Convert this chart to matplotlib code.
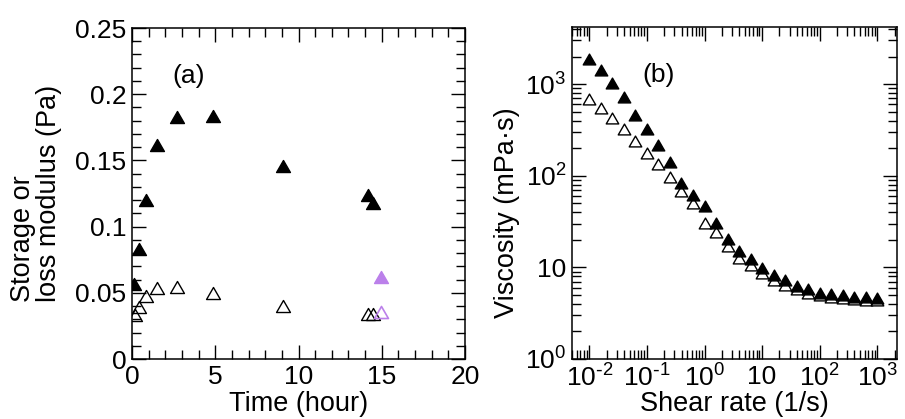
import numpy as np
import matplotlib
matplotlib.use("Agg")
import matplotlib.pyplot as plt
from matplotlib.path import Path
from matplotlib.ticker import MultipleLocator, LogLocator, FixedLocator, FixedFormatter, NullFormatter

plt.rcParams["font.family"] = ["Liberation Sans", "DejaVu Sans"]
plt.rcParams["mathtext.default"] = "regular"

# ================= DATA (a) =================
time_storage = [0.1, 0.42, 0.84, 1.52, 2.72, 4.88, 9.05, 14.2, 14.5]
storage = [0.0566, 0.083, 0.120, 0.162, 0.1825, 0.1835, 0.1458, 0.124, 0.1176]
time_loss = [0.18, 0.44, 0.84, 1.52, 2.72, 4.88, 9.05, 14.2, 14.5]
loss = [0.0332, 0.0395, 0.0478, 0.0534, 0.0546, 0.0501, 0.040, 0.0338, 0.0338]
time_extra = [14.96]
storage_extra = [0.0622]
loss_extra = [0.0357]

# ================= DATA (b) =================
shear_rate = [10 ** (-2 + i / 5) for i in range(26)]
visc_filled = [1900, 1416, 1030, 715, 458, 320, 216, 142, 84, 61.6, 46.8, 30.8, 20.3,
               15.1, 12.3, 9.8, 8.3, 7.3, 6.3, 5.8, 5.3, 5.1, 5.0, 4.8, 4.8, 4.6]
visc_open = [680, 551, 422, 320, 239, 175, 133, 97.5, 68, 50.8, 30.8, 24.5, 17.1,
             12.6, 10.6, 8.65, 7.3, 6.45, 5.8, 5.3, 5.0, 4.8, 4.6, 4.5, 4.43, 4.35]

x_ticks_b = [1e-2, 1e-1, 1, 10, 100, 1000]
x_labels_b = [r"$10^{\text{-}2}$", r"$10^{\text{-}1}$", "$10^{0}$", "10", "$10^{2}$", "$10^{3}$"]
y_ticks_b = [1, 10, 100, 1000]
y_labels_b = ["$10^{0}$", "10", "$10^{2}$", "$10^{3}$"]

PURPLE = "#bb80ea"

# equilateral triangle marker
tri = Path([(-1, -0.866), (1, -0.866), (0, 0.866), (-1, -0.866)],
           [Path.MOVETO, Path.LINETO, Path.LINETO, Path.CLOSEPOLY])

fig = plt.figure(figsize=(9.05, 4.19), dpi=100)
ax1 = fig.add_axes([132 / 905, 60 / 419, 333 / 905, 331 / 419])
ax2 = fig.add_axes([572 / 905, 60 / 419, 325 / 905, 332 / 419])

FS = 19

def style(ax):
    for s in ax.spines.values():
        s.set_linewidth(1.1)
    ax.tick_params(which="both", direction="in", top=True, right=True,
                   labelsize=FS, width=1.0)
    ax.tick_params(which="major", length=10, pad=4)
    ax.tick_params(which="minor", length=6.5)

# ================= PANEL (a) =================
ms_a = 10
ax1.plot(time_storage, storage, linestyle="none", marker=tri, ms=ms_a,
         color="black", mec="black")
ax1.plot(time_loss, loss, linestyle="none", marker=tri, ms=ms_a,
         mfc="none", mec="black", mew=1.0)
ax1.plot(time_extra, storage_extra, linestyle="none", marker=tri, ms=ms_a,
         color=PURPLE, mec=PURPLE)
ax1.plot(time_extra, loss_extra, linestyle="none", marker=tri, ms=ms_a,
         mfc="none", mec=PURPLE, mew=1.2)

ax1.set_xlim(0, 20)
ax1.set_ylim(0, 0.25)
ax1.xaxis.set_major_locator(MultipleLocator(5))
ax1.xaxis.set_minor_locator(MultipleLocator(1))
ax1.set_yticks([0, 0.05, 0.1, 0.15, 0.2, 0.25])
ax1.set_yticklabels(["0", "0.05", "0.1", "0.15", "0.2", "0.25"])
ax1.yaxis.set_minor_locator(MultipleLocator(0.01))
style(ax1)
ax1.set_xlabel("Time (hour)", fontsize=FS + 0.5, labelpad=1.5)
ax1.set_ylabel("Storage or\nloss modulus (Pa)", fontsize=FS + 0.5,
               multialignment="left", linespacing=1.0)
ax1.yaxis.set_label_coords(-0.21, 0.5)
ax1.text(0.12, 0.855, "(a)", transform=ax1.transAxes, fontsize=FS,
         va="center", ha="left")

# ================= PANEL (b) =================
ms_b = 9
ax2.plot(shear_rate, visc_open, linestyle="none", marker=tri, ms=ms_b,
         mfc="white", mec="black", mew=1.0)
ax2.plot(shear_rate, visc_filled, linestyle="none", marker=tri, ms=ms_b,
         color="black", mec="black")
ax2.set_xscale("log")
ax2.set_yscale("log")
ax2.set_xlim(0.005, 2200)
ax2.set_ylim(1, 4200)
ax2.xaxis.set_major_locator(FixedLocator(x_ticks_b))
ax2.xaxis.set_major_formatter(FixedFormatter(x_labels_b))
ax2.xaxis.set_minor_locator(LogLocator(base=10, subs=np.arange(2, 10), numticks=20))
ax2.xaxis.set_minor_formatter(NullFormatter())
ax2.yaxis.set_major_locator(FixedLocator(y_ticks_b))
ax2.yaxis.set_major_formatter(FixedFormatter(y_labels_b))
ax2.yaxis.set_minor_locator(LogLocator(base=10, subs=np.arange(2, 10), numticks=20))
ax2.yaxis.set_minor_formatter(NullFormatter())
style(ax2)
ax2.set_xlabel("Shear rate (1/s)", fontsize=FS + 0.5, labelpad=-0.5)
ax2.set_ylabel("Viscosity (mPa·s)", fontsize=FS + 0.5)
ax2.yaxis.set_label_coords(-0.16, 0.44)
ax2.text(0.215, 0.855, "(b)", transform=ax2.transAxes, fontsize=FS,
         va="center", ha="left")

fig.savefig("out.png", dpi=100)
